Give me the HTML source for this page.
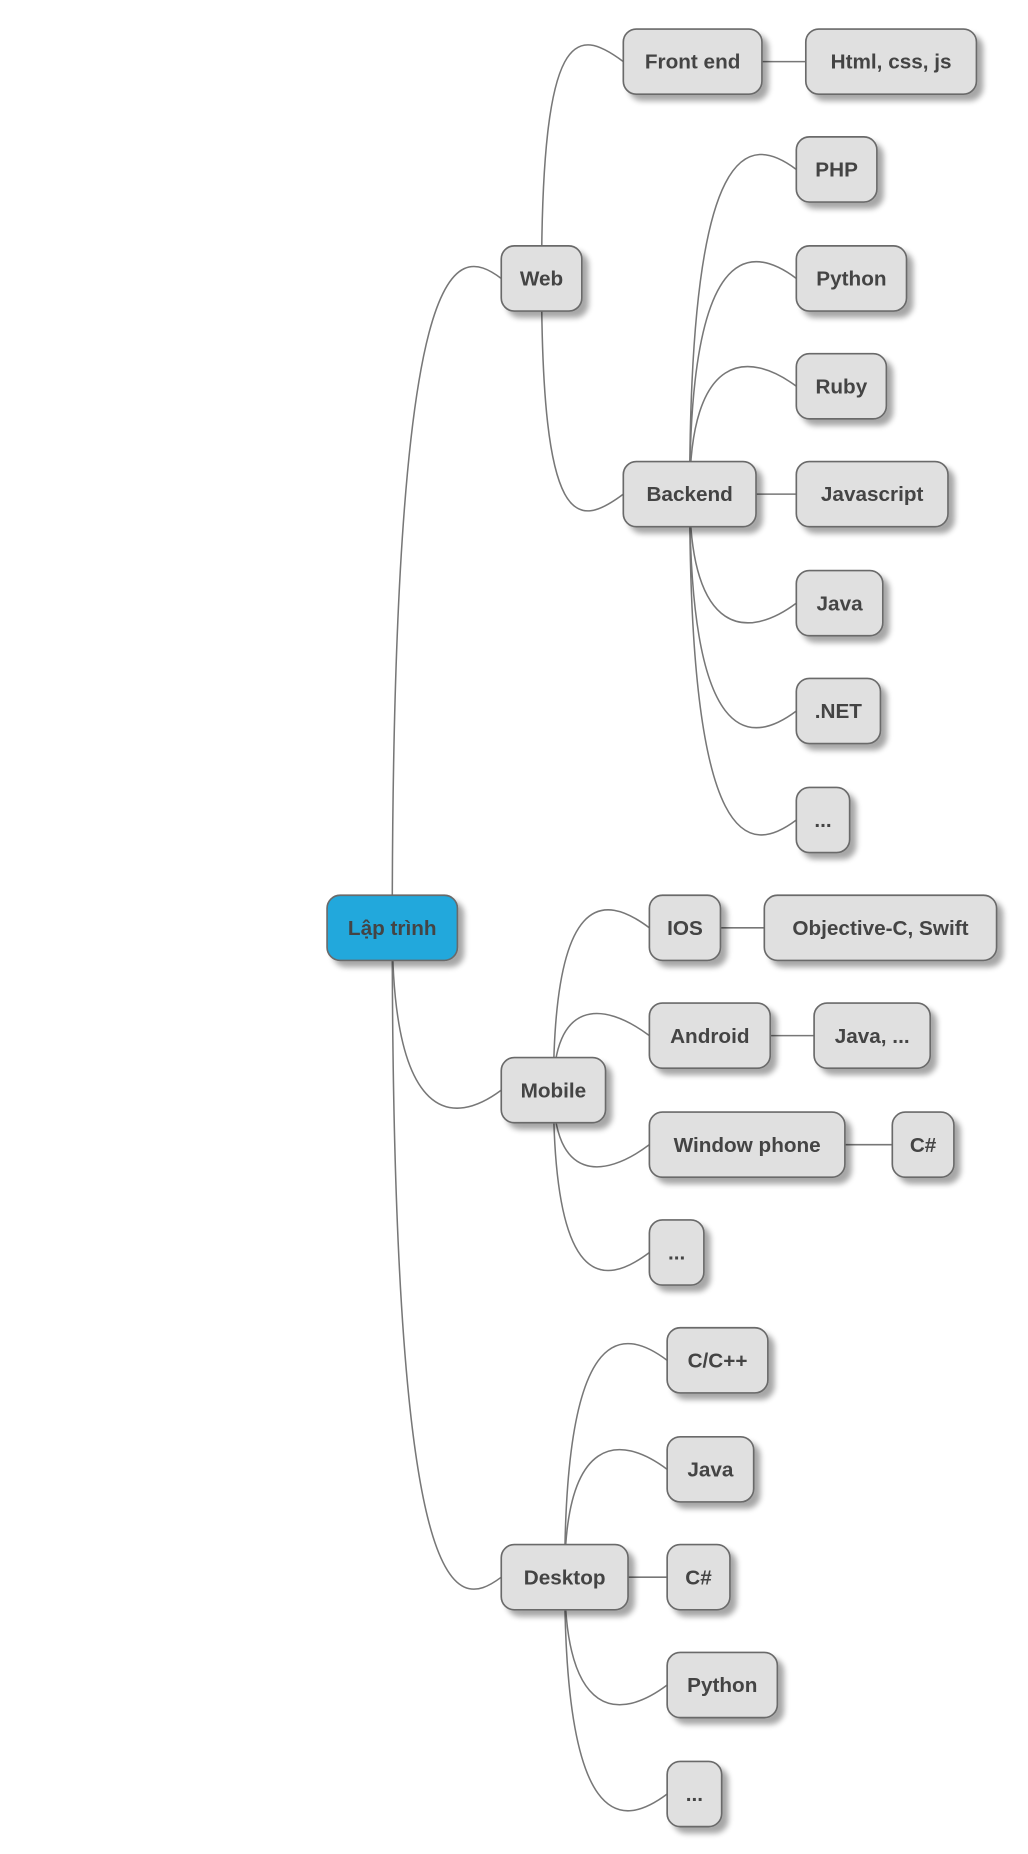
<!DOCTYPE html>
<html><head><meta charset="utf-8"><style>
html,body{margin:0;padding:0;background:#fff;}
svg{display:block}
text{font-family:"Liberation Sans","Noto Sans CJK SC",sans-serif;font-weight:bold;font-size:17.5px;fill:#444;text-anchor:middle}
rect{fill:#e0e0e0;stroke:#6a6a6a;stroke-width:1.4}
</style></head><body>
<svg width="1028" height="1854" viewBox="0 0 867.5 1564.6" xmlns="http://www.w3.org/2000/svg">
<defs><filter id="sh" x="-20%" y="-20%" width="150%" height="160%"><feGaussianBlur in="SourceAlpha" stdDeviation="2.5"/><feOffset dx="5" dy="5"/><feComponentTransfer><feFuncA type="linear" slope="0.35"/></feComponentTransfer><feMerge><feMergeNode/><feMergeNode in="SourceGraphic"/></feMerge></filter></defs>
<g fill="none" stroke="#777" stroke-width="1.3">
<path d="M331,783 C331,205 383,205 423,235"/>
<path d="M331,783 C331,950 383,950 423,920"/>
<path d="M331,783 C331,1361 383,1361 423,1331"/>
<path d="M457,235 C457,22 486,22 526,52"/>
<path d="M457,235 C457,447 486,447 526,417"/>
<path d="M643,52 L680,52"/>
<path d="M582,417 C582,113 632,113 672,143"/>
<path d="M582,417 C582,205 632,205 672,235"/>
<path d="M582,417 C582,296 632,296 672,326"/>
<path d="M638,417 L672,417"/>
<path d="M582,417 C582,539 632,539 672,509"/>
<path d="M582,417 C582,630 632,630 672,600"/>
<path d="M582,417 C582,722 632,722 672,692"/>
<path d="M467,920 C467,753 508,753 548,783"/>
<path d="M467,920 C467,844 508,844 548,874"/>
<path d="M467,920 C467,996 508,996 548,966"/>
<path d="M467,920 C467,1087 508,1087 548,1057"/>
<path d="M608,783 L645,783"/>
<path d="M650,874 L687,874"/>
<path d="M713,966 L753,966"/>
<path d="M476.5,1331 C476.5,1118 523,1118 563,1148"/>
<path d="M476.5,1331 C476.5,1210 523,1210 563,1240"/>
<path d="M530,1331 L563,1331"/>
<path d="M476.5,1331 C476.5,1452 523,1452 563,1422"/>
<path d="M476.5,1331 C476.5,1544 523,1544 563,1514"/>
</g>
<g filter="url(#sh)">
<rect x="276" y="755.5" width="110" height="55" rx="11" style="fill:#22a8dc"/>
<rect x="423" y="207.5" width="68" height="55" rx="11"/>
<rect x="526" y="24.5" width="117" height="55" rx="11"/>
<rect x="680" y="24.5" width="144" height="55" rx="11"/>
<rect x="526" y="389.5" width="112" height="55" rx="11"/>
<rect x="672" y="115.5" width="68" height="55" rx="11"/>
<rect x="672" y="207.5" width="93" height="55" rx="11"/>
<rect x="672" y="298.5" width="76" height="55" rx="11"/>
<rect x="672" y="389.5" width="128" height="55" rx="11"/>
<rect x="672" y="481.5" width="73" height="55" rx="11"/>
<rect x="672" y="572.5" width="71" height="55" rx="11"/>
<rect x="672" y="664.5" width="45" height="55" rx="11"/>
<rect x="423" y="892.5" width="88" height="55" rx="11"/>
<rect x="548" y="755.5" width="60" height="55" rx="11"/>
<rect x="645" y="755.5" width="196" height="55" rx="11"/>
<rect x="548" y="846.5" width="102" height="55" rx="11"/>
<rect x="687" y="846.5" width="98" height="55" rx="11"/>
<rect x="548" y="938.5" width="165" height="55" rx="11"/>
<rect x="753" y="938.5" width="52" height="55" rx="11"/>
<rect x="548" y="1029.5" width="46" height="55" rx="11"/>
<rect x="423" y="1303.5" width="107" height="55" rx="11"/>
<rect x="563" y="1120.5" width="85" height="55" rx="11"/>
<rect x="563" y="1212.5" width="73" height="55" rx="11"/>
<rect x="563" y="1303.5" width="53" height="55" rx="11"/>
<rect x="563" y="1394.5" width="93" height="55" rx="11"/>
<rect x="563" y="1486.5" width="46" height="55" rx="11"/>
</g>
<text x="331" y="789">Lập trình</text>
<text x="457" y="241">Web</text>
<text x="584.5" y="58">Front end</text>
<text x="752" y="58">Html, css, js</text>
<text x="582" y="423">Backend</text>
<text x="706" y="149">PHP</text>
<text x="718.5" y="241">Python</text>
<text x="710" y="332">Ruby</text>
<text x="736" y="423">Javascript</text>
<text x="708.5" y="515">Java</text>
<text x="707.5" y="606">.NET</text>
<text x="694.5" y="698">...</text>
<text x="467" y="926">Mobile</text>
<text x="578" y="789">IOS</text>
<text x="743" y="789">Objective-C, Swift</text>
<text x="599" y="880">Android</text>
<text x="736" y="880">Java, ...</text>
<text x="630.5" y="972">Window phone</text>
<text x="779" y="972">C#</text>
<text x="571" y="1063">...</text>
<text x="476.5" y="1337">Desktop</text>
<text x="605.5" y="1154">C/C++</text>
<text x="599.5" y="1246">Java</text>
<text x="589.5" y="1337">C#</text>
<text x="609.5" y="1428">Python</text>
<text x="586" y="1520">...</text>
</svg>
</body></html>
